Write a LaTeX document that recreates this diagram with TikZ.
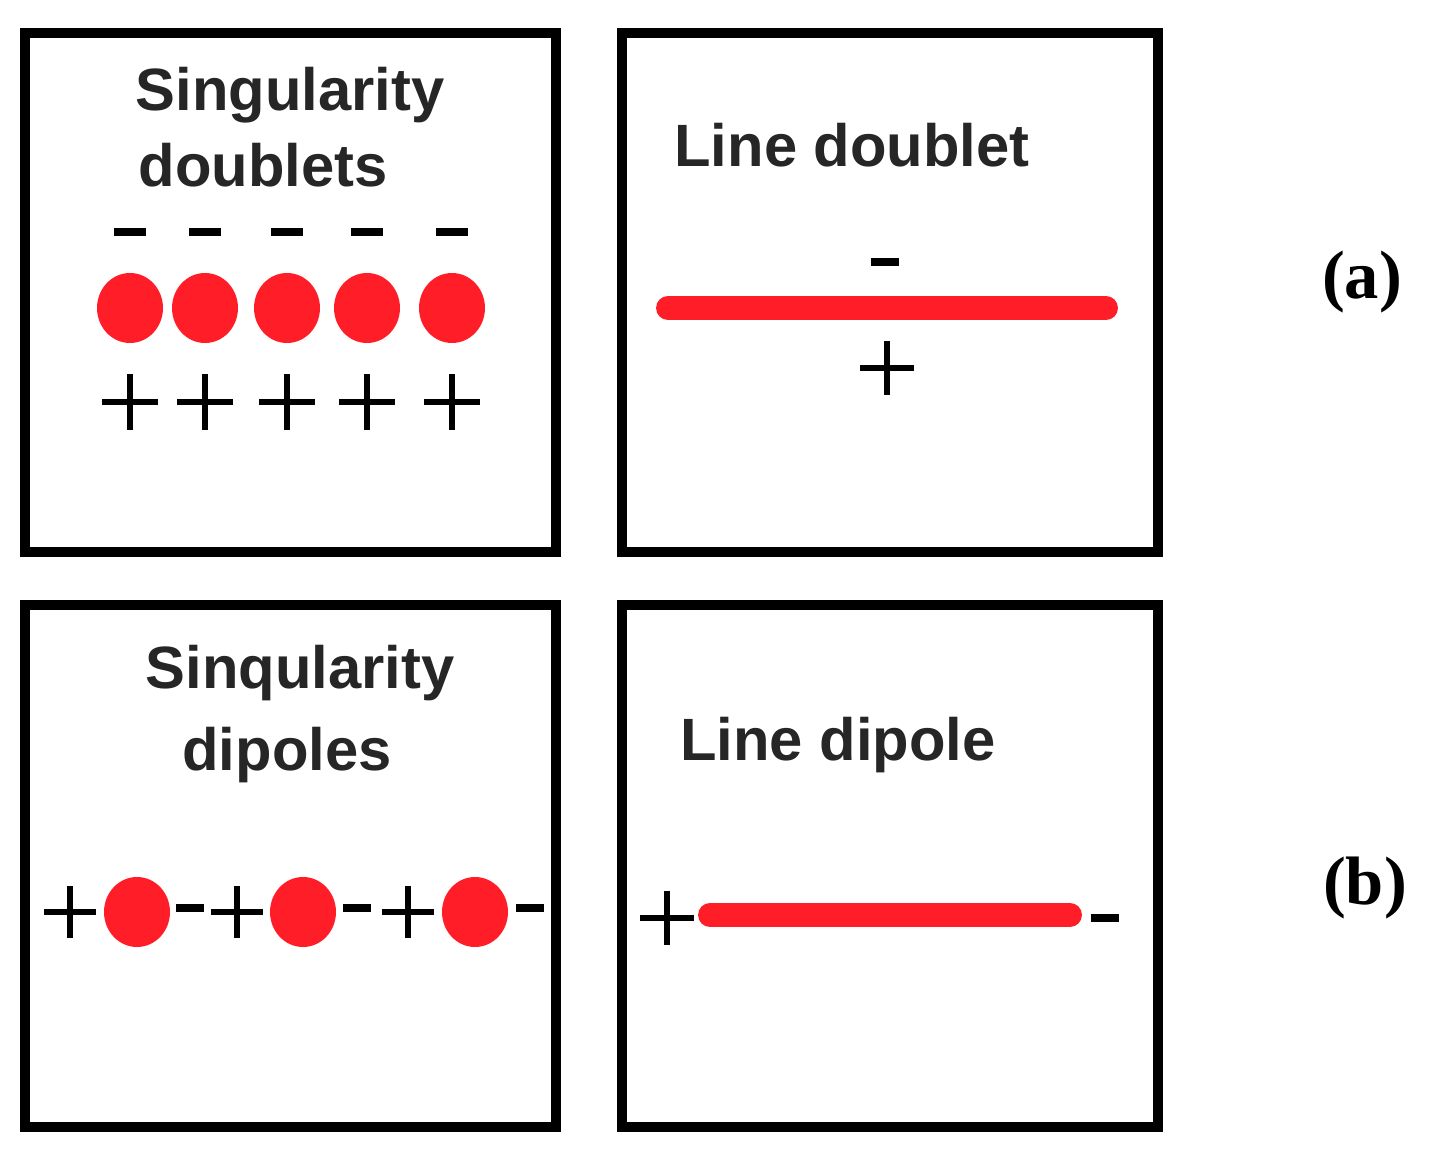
\documentclass[tikz,border=0pt]{standalone}
\usepackage{fontspec}
\setmainfont{Liberation Serif}
\newfontfamily\lab{Liberation Sans}
\definecolor{rd}{RGB}{255,30,40}
\begin{document}
\begin{tikzpicture}[x=0.02cm,y=-0.02cm,
 box/.style={line width=10*0.567pt,draw=black},
 ttl/.style={font=\lab\bfseries\fontsize{34}{40}\selectfont,text=black!85,inner sep=0},
 dot/.style={fill=rd,draw=none},
 mn/.style={line width=8*0.567pt},
 ps/.style={line width=6*0.567pt},
 rl/.style={draw=rd,line width=24*0.567pt,line cap=round},
 tag/.style={font=\bfseries\fontsize{39}{44}\selectfont,inner sep=0}]
\useasboundingbox (0,0) rectangle (1434,1152);
\draw[box] (25,33) rectangle (556,552);
\draw[box] (622,33) rectangle (1158,552);
\draw[box] (25,605) rectangle (556,1127);
\draw[box] (622,605) rectangle (1158,1127);
% top-left
\node[ttl] (t1) at (290,95) {Singularity};
\node[ttl] (t2) at (263,165) {doublets};
\foreach \x in {130,205,287,367,452}{
 \draw[mn] (\x-16,232) -- (\x+16,232);
 \fill[dot] (\x,308) ellipse (33 and 35);
 \draw[ps] (\x-28,402) -- (\x+28,402) (\x,374) -- (\x,430);}
% top-right
\node[ttl] (t3) at (852,145) {Line doublet};
\draw[mn] (871,262) -- (899,262);
\draw[rl] (668,308) -- (1106,308);
\draw[ps] (860,368) -- (914,368) (887,341) -- (887,395);
% bottom-left
\node[ttl] (t4) at (300,673) {Sinqularity};
\node[ttl] (t5) at (287,755) {dipoles};
\foreach \x in {70,237,408}{\draw[ps] (\x-26,912) -- (\x+26,912) (\x,886) -- (\x,938);}
\foreach \x in {137,303,475}{\fill[dot] (\x,912) ellipse (33 and 35);}
\foreach \x in {190,357,530}{\draw[mn] (\x-14,908) -- (\x+14,908);}
% bottom-right
\node[ttl] (t6) at (838,745) {Line dipole};
\draw[ps] (640,918) -- (694,918) (667,891) -- (667,945);
\draw[rl] (710,915) -- (1070,915);
\draw[mn] (1091,918) -- (1119,918);
\node[tag] (a) at (1362,282) {(a)};
\node[tag] (b) at (1365,888) {(b)};
\end{tikzpicture}
\end{document}
